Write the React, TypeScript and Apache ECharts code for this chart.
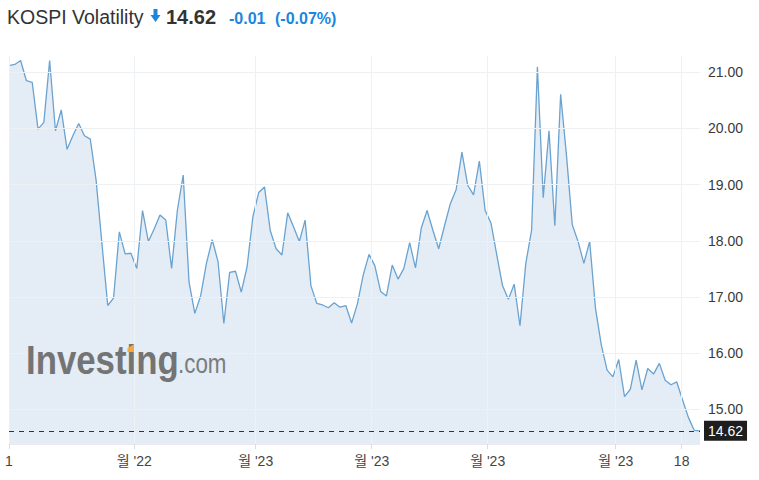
import React, { useEffect, useRef } from "react";
import * as echarts from "echarts";

const values: number[] = [
  21.12, 21.14, 21.21, 20.85, 20.82, 19.99, 20.11, 21.21, 19.96, 20.33,
  19.63, 19.87, 20.09, 19.87, 19.81, 19.08, 17.96, 16.85, 16.98, 18.16,
  17.77, 17.78, 17.51, 18.54, 17.99, 18.21, 18.46, 18.37, 17.51, 18.55,
  19.17, 17.27, 16.71, 17.02, 17.6, 18.02, 17.63, 16.53, 17.44, 17.46,
  17.09, 17.54, 18.43, 18.86, 18.96, 18.18, 17.86, 17.75, 18.5, 18.25,
  17.99, 18.37, 17.2, 16.89, 16.86, 16.81, 16.9, 16.82, 16.85, 16.54,
  16.88, 17.39, 17.76, 17.56, 17.1, 17.02, 17.57, 17.32, 17.51, 17.97,
  17.52, 18.23, 18.54, 18.19, 17.86, 18.27, 18.66, 18.91, 19.58, 18.99,
  18.82, 19.42, 18.54, 18.32, 17.75, 17.2, 16.96, 17.23, 16.49, 17.6,
  18.19, 21.1, 18.77, 19.96, 18.27, 20.61, 19.53, 18.29, 17.99, 17.6,
  17.99, 16.8, 16.15, 15.7, 15.58, 15.89, 15.23, 15.36, 15.88, 15.35,
  15.73, 15.63, 15.82, 15.52, 15.44, 15.49, 15.17, 14.86, 14.63, 14.62,
];

const xTickPositions: number[] = [0, 21.58, 42.48, 62.46, 82.43, 104.48, 115.84];
const xTickLabels: string[] = ["1", "월 '22", "월 '23", "월 '23", "월 '23", "월 '23", "18"];
const yTickValues: number[] = [15, 16, 17, 18, 19, 20, 21];
const lastValue = 14.62;
const titleName = "KOSPI Volatility";
const titlePrice = "14.62";
const titleChange = "-0.01";
const titleChangePct = "(-0.07%)";

const FONT = '"Liberation Sans", "Noto Sans CJK KR", Arial, sans-serif';
const BLUE = "#1a86de";

export default function App() {
  const ref = useRef<HTMLDivElement>(null);
  useEffect(() => {
    if (!ref.current) return;
    const chart = echarts.init(ref.current, undefined, { renderer: "svg" });
    const option: any = {
      animation: false,
      textStyle: { fontFamily: FONT },
      grid: { left: 9, right: 59, top: 56, bottom: 36 },
      xAxis: {
        type: "value",
        min: 0,
        max: values.length - 1,
        splitLine: { show: false },
        axisLine: { show: true, lineStyle: { color: "#e8ecf0" } },
        axisTick: {
          show: true,
          customValues: xTickPositions,
          length: 5,
          lineStyle: { color: "#d8dde3" },
        },
        axisLabel: {
          customValues: xTickPositions,
          fontSize: 14,
          color: "#444",
          fontFamily: FONT,
          margin: 10,
          formatter: (v: number) => {
            let best = 0;
            for (let i = 0; i < xTickPositions.length; i++) {
              if (Math.abs(xTickPositions[i] - v) < Math.abs(xTickPositions[best] - v)) best = i;
            }
            return xTickLabels[best];
          },
        },
      },
      yAxis: {
        type: "value",
        position: "right",
        min: 14.386,
        max: 21.29,
        splitLine: { show: false },
        axisLine: { show: true, lineStyle: { color: "#e3e8ee" } },
        axisTick: {
          show: true,
          customValues: yTickValues,
          length: 4,
          lineStyle: { color: "#d0d5db" },
        },
        axisLabel: {
          customValues: yTickValues,
          fontSize: 14,
          color: "#3a3a3a",
          fontFamily: FONT,
          margin: 8,
          formatter: (v: number) => v.toFixed(2),
        },
      },
      series: [
        {
          type: "line",
          data: [],
          z: 1,
          silent: true,
          markLine: {
            silent: true,
            symbol: ["none", "none"],
            label: { show: false },
            lineStyle: { color: "#eef1f4", width: 1, type: "solid" },
            data: [
              ...xTickPositions.map((v) => ({ xAxis: v })),
              ...yTickValues.map((v) => ({ yAxis: v })),
            ],
          },
        },
        {
          type: "line",
          z: 2,
          data: values.map((v, i) => [i, v]),
          showSymbol: false,
          lineStyle: { color: "#6aa2d0", width: 1.3 },
          areaStyle: { color: "#d9e6f2", opacity: 0.7 },
          markLine: {
            silent: true,
            symbol: ["none", "none"],
            lineStyle: { color: "#333", width: 1, type: [5, 5] },
            label: {
              show: true,
              position: "end",
              distance: 4,
              formatter: lastValue.toFixed(2),
              backgroundColor: "#1e1e1e",
              color: "#fff",
              fontSize: 14,
              fontFamily: FONT,
              padding: [3, 4, 3, 4],
            },
            data: [{ yAxis: lastValue }],
          },
        },
      ],
      graphic: [
        {
          type: "text",
          x: 7,
          y: 17,
          style: { text: titleName, font: `19.5px ${FONT}`, fill: "#333", textVerticalAlign: "middle" },
        },
        {
          type: "polygon",
          shape: {
            points: [
              [153.5, 9], [157.5, 9], [157.5, 15], [160.5, 15], [155.5, 22], [150.5, 15], [153.5, 15],
            ],
          },
          style: { fill: BLUE },
        },
        {
          type: "text",
          x: 166,
          y: 17,
          style: { text: titlePrice, font: `bold 20px ${FONT}`, fill: "#333", textVerticalAlign: "middle" },
        },
        {
          type: "text",
          x: 229,
          y: 18,
          style: { text: titleChange, font: `bold 16px ${FONT}`, fill: BLUE, textVerticalAlign: "middle" },
        },
        {
          type: "text",
          x: 275,
          y: 18,
          style: { text: titleChangePct, font: `bold 16px ${FONT}`, fill: BLUE, textVerticalAlign: "middle" },
        },
        {
          type: "text",
          x: 26,
          y: 360,
          scaleX: 0.87,
          z: 10,
          style: { text: "Investing", font: `bold 40px ${FONT}`, fill: "#747474", textVerticalAlign: "middle" },
        },
        {
          type: "polygon",
          z: 11,
          shape: { points: [[127.5, 348], [134, 344.5], [134, 352], [127.5, 352]] },
          style: { fill: "#f3a641" },
        },
        {
          type: "text",
          x: 178,
          y: 363,
          scaleX: 0.8,
          z: 10,
          style: { text: ".com", font: `28px ${FONT}`, fill: "#7c7c7c", textVerticalAlign: "middle" },
        },
      ],
    };
    chart.setOption(option);
    return () => chart.dispose();
  }, []);
  return <div ref={ref} style={{ width: 759, height: 480, position: "absolute", left: 0, top: 0 }} />;
}
